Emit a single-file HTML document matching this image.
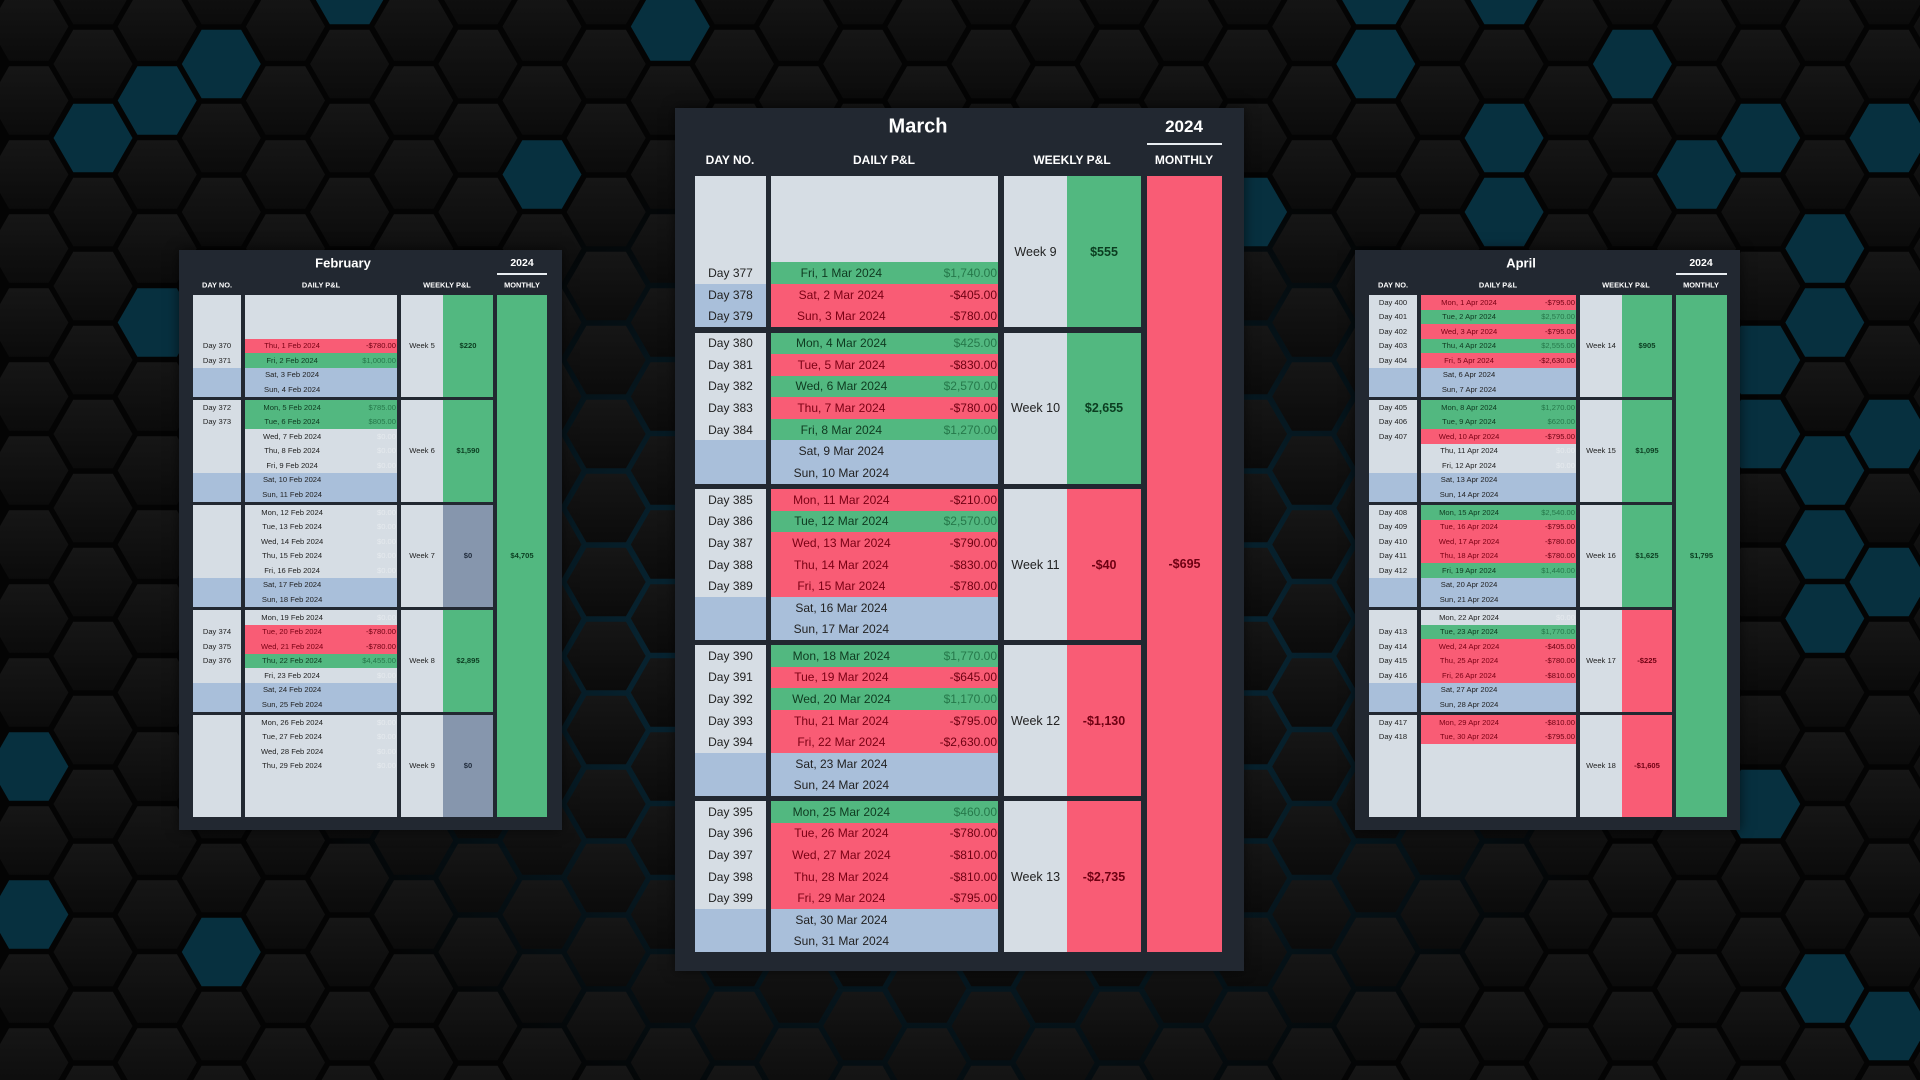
<!DOCTYPE html>
<html style="width:1920px;height:1080px;overflow:hidden"><head><meta charset="utf-8">
<style>
*{margin:0;padding:0;box-sizing:border-box}
html,body{width:1920px;height:1080px;overflow:hidden}
body{position:relative;font-family:"Liberation Sans",sans-serif;background:radial-gradient(ellipse 700px 520px at 50% 60%,#0b3545 0%,#072533 40%,#040404 100%)}
#bg{position:absolute;left:0;top:0;display:block}
.p{position:absolute;background:#222831;box-shadow:0 0 12px rgba(0,0,0,.6)}
.t{position:absolute;color:#fff;font-weight:bold;text-align:center;transform:translate(-50%,-50%);white-space:nowrap}
.ul{position:absolute;border-top:2px solid #e8ecf0}
.blk{position:absolute;left:0;right:0}
.dc,.dp,.wl,.wv,.mo{position:absolute;top:0;bottom:0;display:flex;flex-direction:column}
.dc>p,.dp>p{flex:1;position:relative;display:flex;align-items:center;justify-content:center;color:#222;white-space:nowrap}
.dp i{position:absolute;left:0;width:62%;text-align:center;font-style:normal}
.dp b{position:absolute;right:1px;font-weight:normal}
.wl,.wv,.mo{justify-content:center;align-items:center;white-space:nowrap}
.wl{background:#d6dde4;color:#222}
.wv,.mo{font-weight:bold}
.L{background:#d6dde4}
.B{background:#a9bfda}
.G{background:#52b880}
.dp>.G{color:#0f3a20}
.dp>.G b{color:#26784a}
.R{background:#f95c75}
.dp>.R{color:#7a0014}
.dp>.R b{color:#6e0012}
.N{background:#8696ad}
.wv.G,.mo.G{color:#0b3d20}.wv.R,.mo.R{color:#6e0012}.wv.N{color:#1f2a3a}
.z{color:#e6eaee}
.s{font-size:7.6px}
.s .blk{height:101.5px}
.s .t.h{font-size:7.4px}
.f .dc{left:14px;width:48px}.f .dp{left:66px;width:152px}.f .wl{left:222px;width:42px}.f .wv{left:264px;width:50px}.f .mo{left:318px;width:50px;top:45px;bottom:auto;height:521.5px}
.a .dc{left:14px;width:48px}.a .dp{left:66px;width:155px}.a .wl{left:225px;width:42px}.a .wv{left:267px;width:50px}.a .mo{left:321px;width:51px;top:45px;bottom:auto;height:521.5px}
.m{font-size:12px}
.m .blk{height:151px}
.m .dc{left:20px;width:71px}.m .dp{left:96px;width:227px}.m .wl{left:329px;width:63px}.m .wv{left:392px;width:74px}.m .mo{left:472px;width:75px;top:68px;bottom:auto;height:776px}
.m .wl,.m .wv,.m .mo{font-size:12.5px}
</style></head><body>
<svg id="bg" width="1920" height="1080"></svg>
<script>
(function(){
var s=document.getElementById('bg'),ns='http://www.w3.org/2000/svg';
var teal={'1,1':1,'2,1':1,'3,0':1,'5,-1':1,'10,0':1,'8,2':1,'2,4':1,'0,10':1,'0,12':1,'3,12':1,'21,0':1,'21,-1':1,'23,-1':1,'25,0':1,'23,1':1,'23,2':1,'26,2':1,'27,1':1,'29,1':1,'28,3':1,'19,2':1,'28,4':1,'27,4':1,'27,5':1,'29,5':1,'28,6':1,'28,7':1,'29,7':1,'28,8':1,'27,10':1,'28,13':1,'29,13':1};
var d=document.createElementNS(ns,'defs');
d.innerHTML='<linearGradient id="hg" x1="0" y1="0" x2="0" y2="1"><stop offset="0" stop-color="#161616"/><stop offset="1" stop-color="#0b0b0b"/></linearGradient>';
s.appendChild(d);
var R=39.5,h=R*0.866;
for(var c=0;c<31;c++){var x=28.9+64.14*c;var base=(c%2)?64:26.5;
for(var r=-1;r<15;r++){var y=base+74*r;
var p=document.createElementNS(ns,'polygon');
p.setAttribute('points',[[x+R,y],[x+R/2,y+h],[x-R/2,y+h],[x-R,y],[x-R/2,y-h],[x+R/2,y-h]].map(function(q){return q[0].toFixed(1)+','+q[1].toFixed(1)}).join(' '));
p.setAttribute('fill',teal[c+','+r]?'#07303f':'url(#hg)');
s.appendChild(p);}}
})();
</script>

<div class="p s f" style="left:179px;top:250px;width:383px;height:580px">
<div class="t" style="left:164px;top:13px;font-size:13px">February</div>
<div class="t" style="left:343px;top:13px;font-size:10.5px">2024</div>
<div class="ul" style="left:318px;top:23px;width:50px"></div>
<div class="t h" style="left:38px;top:35px">DAY NO.</div>
<div class="t h" style="left:142px;top:35px">DAILY P&amp;L</div>
<div class="t h" style="left:268px;top:35px">WEEKLY P&amp;L</div>
<div class="t h" style="left:343px;top:35px">MONTHLY</div>

<div class="blk" style="top:45px">
<div class="dc"><p class="L"></p><p class="L"></p><p class="L"></p><p class="L">Day 370</p><p class="L">Day 371</p><p class="B"></p><p class="B"></p></div>
<div class="dp"><p class="L"></p><p class="L"></p><p class="L"></p><p class="R"><i>Thu, 1 Feb 2024</i><b>-$780.00</b></p><p class="G"><i>Fri, 2 Feb 2024</i><b>$1,000.00</b></p><p class="B"><i>Sat, 3 Feb 2024</i></p><p class="B"><i>Sun, 4 Feb 2024</i></p></div>
<div class="wl">Week 5</div><div class="wv G">$220</div></div>

<div class="blk" style="top:150px">
<div class="dc"><p class="L">Day 372</p><p class="L">Day 373</p><p class="L"></p><p class="L"></p><p class="L"></p><p class="B"></p><p class="B"></p></div>
<div class="dp"><p class="G"><i>Mon, 5 Feb 2024</i><b>$785.00</b></p><p class="G"><i>Tue, 6 Feb 2024</i><b>$805.00</b></p><p class="L"><i>Wed, 7 Feb 2024</i><b class="z">$0.00</b></p><p class="L"><i>Thu, 8 Feb 2024</i><b class="z">$0.00</b></p><p class="L"><i>Fri, 9 Feb 2024</i><b class="z">$0.00</b></p><p class="B"><i>Sat, 10 Feb 2024</i></p><p class="B"><i>Sun, 11 Feb 2024</i></p></div>
<div class="wl">Week 6</div><div class="wv G">$1,590</div></div>

<div class="blk" style="top:255px">
<div class="dc"><p class="L"></p><p class="L"></p><p class="L"></p><p class="L"></p><p class="L"></p><p class="B"></p><p class="B"></p></div>
<div class="dp"><p class="L"><i>Mon, 12 Feb 2024</i><b class="z">$0.00</b></p><p class="L"><i>Tue, 13 Feb 2024</i><b class="z">$0.00</b></p><p class="L"><i>Wed, 14 Feb 2024</i><b class="z">$0.00</b></p><p class="L"><i>Thu, 15 Feb 2024</i><b class="z">$0.00</b></p><p class="L"><i>Fri, 16 Feb 2024</i><b class="z">$0.00</b></p><p class="B"><i>Sat, 17 Feb 2024</i></p><p class="B"><i>Sun, 18 Feb 2024</i></p></div>
<div class="wl">Week 7</div><div class="wv N">$0</div></div>

<div class="blk" style="top:360px">
<div class="dc"><p class="L"></p><p class="L">Day 374</p><p class="L">Day 375</p><p class="L">Day 376</p><p class="L"></p><p class="B"></p><p class="B"></p></div>
<div class="dp"><p class="L"><i>Mon, 19 Feb 2024</i><b class="z">$0.00</b></p><p class="R"><i>Tue, 20 Feb 2024</i><b>-$780.00</b></p><p class="R"><i>Wed, 21 Feb 2024</i><b>-$780.00</b></p><p class="G"><i>Thu, 22 Feb 2024</i><b>$4,455.00</b></p><p class="L"><i>Fri, 23 Feb 2024</i><b class="z">$0.00</b></p><p class="B"><i>Sat, 24 Feb 2024</i></p><p class="B"><i>Sun, 25 Feb 2024</i></p></div>
<div class="wl">Week 8</div><div class="wv G">$2,895</div></div>

<div class="blk" style="top:465px">
<div class="dc"><p class="L"></p><p class="L"></p><p class="L"></p><p class="L"></p><p class="L"></p><p class="L"></p><p class="L"></p></div>
<div class="dp"><p class="L"><i>Mon, 26 Feb 2024</i><b class="z">$0.00</b></p><p class="L"><i>Tue, 27 Feb 2024</i><b class="z">$0.00</b></p><p class="L"><i>Wed, 28 Feb 2024</i><b class="z">$0.00</b></p><p class="L"><i>Thu, 29 Feb 2024</i><b class="z">$0.00</b></p><p class="L"></p><p class="L"></p><p class="L"></p></div>
<div class="wl">Week 9</div><div class="wv N">$0</div></div>
<div class="mo G">$4,705</div>
</div>

<div class="p m" style="left:675px;top:108px;width:569px;height:863px">
<div class="t" style="left:243px;top:19px;font-size:20px">March</div>
<div class="t" style="left:509px;top:19px;font-size:17px">2024</div>
<div class="ul" style="left:472px;top:35px;width:75px"></div>
<div class="t" style="left:55px;top:52px;font-size:12px">DAY NO.</div>
<div class="t" style="left:209px;top:52px;font-size:12px">DAILY P&amp;L</div>
<div class="t" style="left:397px;top:52px;font-size:12px">WEEKLY P&amp;L</div>
<div class="t" style="left:509px;top:52px;font-size:12px">MONTHLY</div>

<div class="blk" style="top:68px">
<div class="dc"><p class="L"></p><p class="L"></p><p class="L"></p><p class="L"></p><p class="L">Day 377</p><p class="B">Day 378</p><p class="B">Day 379</p></div>
<div class="dp"><p class="L"></p><p class="L"></p><p class="L"></p><p class="L"></p><p class="G"><i>Fri, 1 Mar 2024</i><b>$1,740.00</b></p><p class="R"><i>Sat, 2 Mar 2024</i><b>-$405.00</b></p><p class="R"><i>Sun, 3 Mar 2024</i><b>-$780.00</b></p></div>
<div class="wl">Week 9</div><div class="wv G">$555</div></div>

<div class="blk" style="top:224.5px">
<div class="dc"><p class="L">Day 380</p><p class="L">Day 381</p><p class="L">Day 382</p><p class="L">Day 383</p><p class="L">Day 384</p><p class="B"></p><p class="B"></p></div>
<div class="dp"><p class="G"><i>Mon, 4 Mar 2024</i><b>$425.00</b></p><p class="R"><i>Tue, 5 Mar 2024</i><b>-$830.00</b></p><p class="G"><i>Wed, 6 Mar 2024</i><b>$2,570.00</b></p><p class="R"><i>Thu, 7 Mar 2024</i><b>-$780.00</b></p><p class="G"><i>Fri, 8 Mar 2024</i><b>$1,270.00</b></p><p class="B"><i>Sat, 9 Mar 2024</i></p><p class="B"><i>Sun, 10 Mar 2024</i></p></div>
<div class="wl">Week 10</div><div class="wv G">$2,655</div></div>

<div class="blk" style="top:381px">
<div class="dc"><p class="L">Day 385</p><p class="L">Day 386</p><p class="L">Day 387</p><p class="L">Day 388</p><p class="L">Day 389</p><p class="B"></p><p class="B"></p></div>
<div class="dp"><p class="R"><i>Mon, 11 Mar 2024</i><b>-$210.00</b></p><p class="G"><i>Tue, 12 Mar 2024</i><b>$2,570.00</b></p><p class="R"><i>Wed, 13 Mar 2024</i><b>-$790.00</b></p><p class="R"><i>Thu, 14 Mar 2024</i><b>-$830.00</b></p><p class="R"><i>Fri, 15 Mar 2024</i><b>-$780.00</b></p><p class="B"><i>Sat, 16 Mar 2024</i></p><p class="B"><i>Sun, 17 Mar 2024</i></p></div>
<div class="wl">Week 11</div><div class="wv R">-$40</div></div>

<div class="blk" style="top:537px">
<div class="dc"><p class="L">Day 390</p><p class="L">Day 391</p><p class="L">Day 392</p><p class="L">Day 393</p><p class="L">Day 394</p><p class="B"></p><p class="B"></p></div>
<div class="dp"><p class="G"><i>Mon, 18 Mar 2024</i><b>$1,770.00</b></p><p class="R"><i>Tue, 19 Mar 2024</i><b>-$645.00</b></p><p class="G"><i>Wed, 20 Mar 2024</i><b>$1,170.00</b></p><p class="R"><i>Thu, 21 Mar 2024</i><b>-$795.00</b></p><p class="R"><i>Fri, 22 Mar 2024</i><b>-$2,630.00</b></p><p class="B"><i>Sat, 23 Mar 2024</i></p><p class="B"><i>Sun, 24 Mar 2024</i></p></div>
<div class="wl">Week 12</div><div class="wv R">-$1,130</div></div>

<div class="blk" style="top:693px">
<div class="dc"><p class="L">Day 395</p><p class="L">Day 396</p><p class="L">Day 397</p><p class="L">Day 398</p><p class="L">Day 399</p><p class="B"></p><p class="B"></p></div>
<div class="dp"><p class="G"><i>Mon, 25 Mar 2024</i><b>$460.00</b></p><p class="R"><i>Tue, 26 Mar 2024</i><b>-$780.00</b></p><p class="R"><i>Wed, 27 Mar 2024</i><b>-$810.00</b></p><p class="R"><i>Thu, 28 Mar 2024</i><b>-$810.00</b></p><p class="R"><i>Fri, 29 Mar 2024</i><b>-$795.00</b></p><p class="B"><i>Sat, 30 Mar 2024</i></p><p class="B"><i>Sun, 31 Mar 2024</i></p></div>
<div class="wl">Week 13</div><div class="wv R">-$2,735</div></div>
<div class="mo R">-$695</div>
</div>

<div class="p s a" style="left:1355px;top:250px;width:385px;height:580px">
<div class="t" style="left:166px;top:13px;font-size:13px">April</div>
<div class="t" style="left:346px;top:13px;font-size:10.5px">2024</div>
<div class="ul" style="left:321px;top:23px;width:51px"></div>
<div class="t h" style="left:38px;top:35px">DAY NO.</div>
<div class="t h" style="left:143px;top:35px">DAILY P&amp;L</div>
<div class="t h" style="left:271px;top:35px">WEEKLY P&amp;L</div>
<div class="t h" style="left:346px;top:35px">MONTHLY</div>

<div class="blk" style="top:45px">
<div class="dc"><p class="L">Day 400</p><p class="L">Day 401</p><p class="L">Day 402</p><p class="L">Day 403</p><p class="L">Day 404</p><p class="B"></p><p class="B"></p></div>
<div class="dp"><p class="R"><i>Mon, 1 Apr 2024</i><b>-$795.00</b></p><p class="G"><i>Tue, 2 Apr 2024</i><b>$2,570.00</b></p><p class="R"><i>Wed, 3 Apr 2024</i><b>-$795.00</b></p><p class="G"><i>Thu, 4 Apr 2024</i><b>$2,555.00</b></p><p class="R"><i>Fri, 5 Apr 2024</i><b>-$2,630.00</b></p><p class="B"><i>Sat, 6 Apr 2024</i></p><p class="B"><i>Sun, 7 Apr 2024</i></p></div>
<div class="wl">Week 14</div><div class="wv G">$905</div></div>

<div class="blk" style="top:150px">
<div class="dc"><p class="L">Day 405</p><p class="L">Day 406</p><p class="L">Day 407</p><p class="L"></p><p class="L"></p><p class="B"></p><p class="B"></p></div>
<div class="dp"><p class="G"><i>Mon, 8 Apr 2024</i><b>$1,270.00</b></p><p class="G"><i>Tue, 9 Apr 2024</i><b>$620.00</b></p><p class="R"><i>Wed, 10 Apr 2024</i><b>-$795.00</b></p><p class="L"><i>Thu, 11 Apr 2024</i><b class="z">$0.00</b></p><p class="L"><i>Fri, 12 Apr 2024</i><b class="z">$0.00</b></p><p class="B"><i>Sat, 13 Apr 2024</i></p><p class="B"><i>Sun, 14 Apr 2024</i></p></div>
<div class="wl">Week 15</div><div class="wv G">$1,095</div></div>

<div class="blk" style="top:255px">
<div class="dc"><p class="L">Day 408</p><p class="L">Day 409</p><p class="L">Day 410</p><p class="L">Day 411</p><p class="L">Day 412</p><p class="B"></p><p class="B"></p></div>
<div class="dp"><p class="G"><i>Mon, 15 Apr 2024</i><b>$2,540.00</b></p><p class="R"><i>Tue, 16 Apr 2024</i><b>-$795.00</b></p><p class="R"><i>Wed, 17 Apr 2024</i><b>-$780.00</b></p><p class="R"><i>Thu, 18 Apr 2024</i><b>-$780.00</b></p><p class="G"><i>Fri, 19 Apr 2024</i><b>$1,440.00</b></p><p class="B"><i>Sat, 20 Apr 2024</i></p><p class="B"><i>Sun, 21 Apr 2024</i></p></div>
<div class="wl">Week 16</div><div class="wv G">$1,625</div></div>

<div class="blk" style="top:360px">
<div class="dc"><p class="L"></p><p class="L">Day 413</p><p class="L">Day 414</p><p class="L">Day 415</p><p class="L">Day 416</p><p class="B"></p><p class="B"></p></div>
<div class="dp"><p class="L"><i>Mon, 22 Apr 2024</i><b class="z">$0.00</b></p><p class="G"><i>Tue, 23 Apr 2024</i><b>$1,770.00</b></p><p class="R"><i>Wed, 24 Apr 2024</i><b>-$405.00</b></p><p class="R"><i>Thu, 25 Apr 2024</i><b>-$780.00</b></p><p class="R"><i>Fri, 26 Apr 2024</i><b>-$810.00</b></p><p class="B"><i>Sat, 27 Apr 2024</i></p><p class="B"><i>Sun, 28 Apr 2024</i></p></div>
<div class="wl">Week 17</div><div class="wv R">-$225</div></div>

<div class="blk" style="top:465px">
<div class="dc"><p class="L">Day 417</p><p class="L">Day 418</p><p class="L"></p><p class="L"></p><p class="L"></p><p class="L"></p><p class="L"></p></div>
<div class="dp"><p class="R"><i>Mon, 29 Apr 2024</i><b>-$810.00</b></p><p class="R"><i>Tue, 30 Apr 2024</i><b>-$795.00</b></p><p class="L"></p><p class="L"></p><p class="L"></p><p class="L"></p><p class="L"></p></div>
<div class="wl">Week 18</div><div class="wv R">-$1,605</div></div>
<div class="mo G">$1,795</div>
</div>
</body></html>
